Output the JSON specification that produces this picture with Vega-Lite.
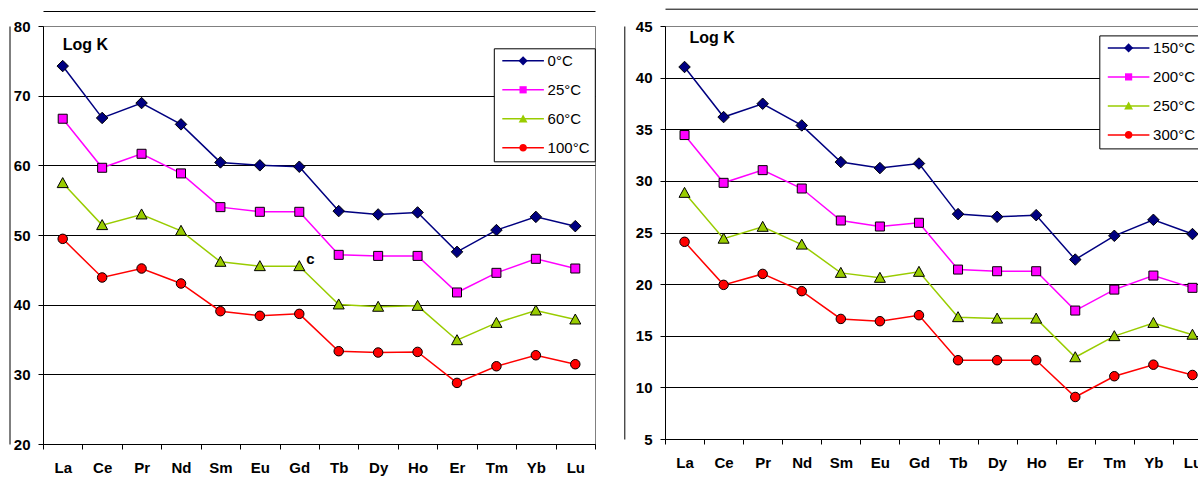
{
  "$schema": "https://vega.github.io/schema/vega-lite/v6.json",
  "background": "white",
  "padding": {"left": 9, "top": 8, "right": 0, "bottom": 0},
  "spacing": 27,
  "datasets": {
    "left": [
      {"element": "La", "temp": "0°C", "logK": 74.25}, {"element": "Ce", "temp": "0°C", "logK": 66.8}, {"element": "Pr", "temp": "0°C", "logK": 68.94}, {"element": "Nd", "temp": "0°C", "logK": 65.88}, {"element": "Sm", "temp": "0°C", "logK": 60.42}, {"element": "Eu", "temp": "0°C", "logK": 60.0}, {"element": "Gd", "temp": "0°C", "logK": 59.8}, {"element": "Tb", "temp": "0°C", "logK": 53.43}, {"element": "Dy", "temp": "0°C", "logK": 52.95}, {"element": "Ho", "temp": "0°C", "logK": 53.24}, {"element": "Er", "temp": "0°C", "logK": 47.58}, {"element": "Tm", "temp": "0°C", "logK": 50.7}, {"element": "Yb", "temp": "0°C", "logK": 52.6}, {"element": "Lu", "temp": "0°C", "logK": 51.27},
      {"element": "La", "temp": "25°C", "logK": 66.69}, {"element": "Ce", "temp": "25°C", "logK": 59.65}, {"element": "Pr", "temp": "25°C", "logK": 61.66}, {"element": "Nd", "temp": "25°C", "logK": 58.84}, {"element": "Sm", "temp": "25°C", "logK": 54.0}, {"element": "Eu", "temp": "25°C", "logK": 53.33}, {"element": "Gd", "temp": "25°C", "logK": 53.33}, {"element": "Tb", "temp": "25°C", "logK": 47.15}, {"element": "Dy", "temp": "25°C", "logK": 47.0}, {"element": "Ho", "temp": "25°C", "logK": 47.0}, {"element": "Er", "temp": "25°C", "logK": 41.75}, {"element": "Tm", "temp": "25°C", "logK": 44.57}, {"element": "Yb", "temp": "25°C", "logK": 46.58}, {"element": "Lu", "temp": "25°C", "logK": 45.19},
      {"element": "La", "temp": "60°C", "logK": 57.45}, {"element": "Ce", "temp": "60°C", "logK": 51.42}, {"element": "Pr", "temp": "60°C", "logK": 52.95}, {"element": "Nd", "temp": "60°C", "logK": 50.6}, {"element": "Sm", "temp": "60°C", "logK": 46.15}, {"element": "Eu", "temp": "60°C", "logK": 45.53}, {"element": "Gd", "temp": "60°C", "logK": 45.53}, {"element": "Tb", "temp": "60°C", "logK": 40.03}, {"element": "Dy", "temp": "60°C", "logK": 39.7}, {"element": "Ho", "temp": "60°C", "logK": 39.83}, {"element": "Er", "temp": "60°C", "logK": 34.9}, {"element": "Tm", "temp": "60°C", "logK": 37.38}, {"element": "Yb", "temp": "60°C", "logK": 39.16}, {"element": "Lu", "temp": "60°C", "logK": 37.87},
      {"element": "La", "temp": "100°C", "logK": 49.45}, {"element": "Ce", "temp": "100°C", "logK": 43.9}, {"element": "Pr", "temp": "100°C", "logK": 45.19}, {"element": "Nd", "temp": "100°C", "logK": 43.04}, {"element": "Sm", "temp": "100°C", "logK": 39.06}, {"element": "Eu", "temp": "100°C", "logK": 38.4}, {"element": "Gd", "temp": "100°C", "logK": 38.68}, {"element": "Tb", "temp": "100°C", "logK": 33.32}, {"element": "Dy", "temp": "100°C", "logK": 33.13}, {"element": "Ho", "temp": "100°C", "logK": 33.22}, {"element": "Er", "temp": "100°C", "logK": 28.77}, {"element": "Tm", "temp": "100°C", "logK": 31.16}, {"element": "Yb", "temp": "100°C", "logK": 32.74}, {"element": "Lu", "temp": "100°C", "logK": 31.45}
    ],
    "right": [
      {"element": "La", "temp": "150°C", "logK": 41.03}, {"element": "Ce", "temp": "150°C", "logK": 36.18}, {"element": "Pr", "temp": "150°C", "logK": 37.47}, {"element": "Nd", "temp": "150°C", "logK": 35.37}, {"element": "Sm", "temp": "150°C", "logK": 31.82}, {"element": "Eu", "temp": "150°C", "logK": 31.24}, {"element": "Gd", "temp": "150°C", "logK": 31.68}, {"element": "Tb", "temp": "150°C", "logK": 26.78}, {"element": "Dy", "temp": "150°C", "logK": 26.52}, {"element": "Ho", "temp": "150°C", "logK": 26.68}, {"element": "Er", "temp": "150°C", "logK": 22.38}, {"element": "Tm", "temp": "150°C", "logK": 24.68}, {"element": "Yb", "temp": "150°C", "logK": 26.23}, {"element": "Lu", "temp": "150°C", "logK": 24.85},
      {"element": "La", "temp": "200°C", "logK": 34.44}, {"element": "Ce", "temp": "200°C", "logK": 29.81}, {"element": "Pr", "temp": "200°C", "logK": 31.04}, {"element": "Nd", "temp": "200°C", "logK": 29.26}, {"element": "Sm", "temp": "200°C", "logK": 26.16}, {"element": "Eu", "temp": "200°C", "logK": 25.58}, {"element": "Gd", "temp": "200°C", "logK": 25.94}, {"element": "Tb", "temp": "200°C", "logK": 21.41}, {"element": "Dy", "temp": "200°C", "logK": 21.25}, {"element": "Ho", "temp": "200°C", "logK": 21.25}, {"element": "Er", "temp": "200°C", "logK": 17.44}, {"element": "Tm", "temp": "200°C", "logK": 19.47}, {"element": "Yb", "temp": "200°C", "logK": 20.83}, {"element": "Lu", "temp": "200°C", "logK": 19.64},
      {"element": "La", "temp": "250°C", "logK": 28.84}, {"element": "Ce", "temp": "250°C", "logK": 24.4}, {"element": "Pr", "temp": "250°C", "logK": 25.55}, {"element": "Nd", "temp": "250°C", "logK": 23.83}, {"element": "Sm", "temp": "250°C", "logK": 21.09}, {"element": "Eu", "temp": "250°C", "logK": 20.61}, {"element": "Gd", "temp": "250°C", "logK": 21.19}, {"element": "Tb", "temp": "250°C", "logK": 16.8}, {"element": "Dy", "temp": "250°C", "logK": 16.66}, {"element": "Ho", "temp": "250°C", "logK": 16.66}, {"element": "Er", "temp": "250°C", "logK": 12.92}, {"element": "Tm", "temp": "250°C", "logK": 14.96}, {"element": "Yb", "temp": "250°C", "logK": 16.24}, {"element": "Lu", "temp": "250°C", "logK": 15.1},
      {"element": "La", "temp": "300°C", "logK": 24.1}, {"element": "Ce", "temp": "300°C", "logK": 19.93}, {"element": "Pr", "temp": "300°C", "logK": 20.99}, {"element": "Nd", "temp": "300°C", "logK": 19.32}, {"element": "Sm", "temp": "300°C", "logK": 16.63}, {"element": "Eu", "temp": "300°C", "logK": 16.41}, {"element": "Gd", "temp": "300°C", "logK": 16.99}, {"element": "Tb", "temp": "300°C", "logK": 12.63}, {"element": "Dy", "temp": "300°C", "logK": 12.63}, {"element": "Ho", "temp": "300°C", "logK": 12.63}, {"element": "Er", "temp": "300°C", "logK": 9.07}, {"element": "Tm", "temp": "300°C", "logK": 11.08}, {"element": "Yb", "temp": "300°C", "logK": 12.2}, {"element": "Lu", "temp": "300°C", "logK": 11.2}
    ],
    "leftTitle": [{"element": "La", "logK": 77.27, "note": "Log K"}],
    "leftNote": [{"element": "Gd", "logK": 46.53, "note": "c"}],
    "rightTitle": [{"element": "La", "logK": 43.79, "note": "Log K"}]
  },
  "hconcat": [
    {
      "width": 552,
      "height": 418,
      "resolve": {"axis": {"x": "independent", "y": "independent"}},
      "layer": [
        {
          "data": {"name": "left"},
          "mark": {"type": "line", "strokeWidth": 1.5},
          "encoding": {
            "x": {"field": "element", "type": "nominal", "bandPosition": 0.5,
                  "sort": ["La","Ce","Pr","Nd","Sm","Eu","Gd","Tb","Dy","Ho","Er","Tm","Yb","Lu"],
                  "scale": {"type": "band", "paddingInner": 0, "paddingOuter": 0},
                  "axis": {"orient": "bottom", "title": null, "tickBand": "extent", "labelAngle": 0, "labelPadding": 11, "grid": false}},
            "y": {"field": "logK", "type": "quantitative",
                  "scale": {"domain": [20, 80], "nice": false, "zero": false},
                  "axis": {"title": null, "values": [20, 30, 40, 50, 60, 70, 80], "grid": true, "labelPadding": 8,
                           "gridColor": {"condition": {"test": "datum.value === 80", "value": "#808080"}, "value": "black"}}},
            "stroke": {"field": "temp", "type": "nominal", "sort": ["0°C", "25°C", "60°C", "100°C"],
                       "scale": {"range": ["#000080", "#FF00FF", "#99CC00", "#FF0000"]},
                       "legend": {"orient": "none", "legendX": 450.8, "legendY": 22.3, "title": null, "zindex": 1,
                                  "symbolType": "M-5.2,0H5.2", "symbolSize": 64, "symbolStrokeWidth": 1.5, "symbolOffset": 16.8,
                                  "labelOffset": 17, "padding": 5, "rowPadding": 13, "strokeColor": "black", "fillColor": "white"}}
          }
        },
        {
          "data": {"name": "left"},
          "mark": {"type": "point", "filled": true, "stroke": "black", "strokeWidth": 1, "size": 100, "opacity": 1},
          "encoding": {
            "x": {"field": "element", "type": "nominal", "bandPosition": 0.5,
                  "sort": ["La","Ce","Pr","Nd","Sm","Eu","Gd","Tb","Dy","Ho","Er","Tm","Yb","Lu"],
                  "axis": {"orient": "top", "offset": 15, "title": null, "labels": false, "ticks": false, "grid": false, "domain": true}},
            "y": {"field": "logK", "type": "quantitative",
                  "axis": {"orient": "left", "offset": 33.5, "title": null, "labels": false, "ticks": false, "grid": false, "domain": true}},
            "fill": {"field": "temp", "type": "nominal",
                     "scale": {"domain": ["0°C", "25°C", "60°C", "100°C"], "range": ["#000080", "#FF00FF", "#99CC00", "#FF0000"]},
                     "legend": {"orient": "none", "legendX": 450.8, "legendY": 22.3, "title": null, "zindex": 2,
                                "symbolSize": 64, "symbolStrokeWidth": 1, "symbolStrokeColor": "black", "symbolOffset": 16.8,
                                "labelOffset": 17, "padding": 5, "rowPadding": 13, "labelOpacity": 0}},
            "shape": {"field": "temp", "type": "nominal",
                      "scale": {"domain": ["0°C", "25°C", "60°C", "100°C"], "range": ["M0,-1.15L1.15,0L0,1.15L-1.15,0Z", "M-0.9,-0.9H0.9V0.9H-0.9Z", "M0,-1.1L1.1,0.9L-1.1,0.9Z", "M-0.95,0A0.95,0.95,0,1,0,0.95,0A0.95,0.95,0,1,0,-0.95,0Z"]},
                      "legend": {"orient": "none", "legendX": 450.8, "legendY": 22.3, "title": null, "zindex": 2,
                                 "symbolSize": 64, "symbolStrokeWidth": 1, "symbolStrokeColor": "black", "symbolOffset": 16.8,
                                 "labelOffset": 17, "padding": 5, "rowPadding": 13, "labelOpacity": 0}}
          }
        },
        {
          "data": {"name": "leftTitle"},
          "mark": {"type": "text", "align": "left", "baseline": "middle", "font": "Liberation Sans", "fontWeight": "bold", "fontSize": 16, "color": "black"},
          "encoding": {
            "x": {"field": "element", "type": "nominal", "bandPosition": 0.5, "sort": ["La","Ce","Pr","Nd","Sm","Eu","Gd","Tb","Dy","Ho","Er","Tm","Yb","Lu"], "axis": null},
            "y": {"field": "logK", "type": "quantitative", "axis": null},
            "text": {"field": "note"}
          }
        },
        {
          "data": {"name": "leftNote"},
          "mark": {"type": "text", "align": "left", "baseline": "middle", "dx": 7, "font": "Liberation Sans", "fontWeight": "bold", "fontSize": 15, "color": "black"},
          "encoding": {
            "x": {"field": "element", "type": "nominal", "bandPosition": 0.5, "sort": ["La","Ce","Pr","Nd","Sm","Eu","Gd","Tb","Dy","Ho","Er","Tm","Yb","Lu"], "axis": null},
            "y": {"field": "logK", "type": "quantitative", "axis": null},
            "text": {"field": "note"}
          }
        }
      ]
    },
    {
      "width": 547,
      "height": 413,
      "resolve": {"axis": {"x": "independent", "y": "independent"}},
      "layer": [
        {
          "data": {"name": "right"},
          "mark": {"type": "line", "strokeWidth": 1.5},
          "encoding": {
            "x": {"field": "element", "type": "nominal", "bandPosition": 0.5,
                  "sort": ["La","Ce","Pr","Nd","Sm","Eu","Gd","Tb","Dy","Ho","Er","Tm","Yb","Lu"],
                  "scale": {"type": "band", "paddingInner": 0, "paddingOuter": 0},
                  "axis": {"orient": "bottom", "title": null, "tickBand": "extent", "labelAngle": 0, "labelPadding": 11, "grid": false}},
            "y": {"field": "logK", "type": "quantitative",
                  "scale": {"domain": [5, 45], "nice": false, "zero": false},
                  "axis": {"title": null, "values": [5, 10, 15, 20, 25, 30, 35, 40, 45], "grid": true, "labelPadding": 8,
                           "gridColor": {"condition": {"test": "datum.value === 45", "value": "#808080"}, "value": "black"}}},
            "stroke": {"field": "temp", "type": "nominal", "sort": ["150°C", "200°C", "250°C", "300°C"],
                       "scale": {"range": ["#000080", "#FF00FF", "#99CC00", "#FF0000"]},
                       "legend": {"orient": "none", "legendX": 434.3, "legendY": 9.4, "title": null, "zindex": 1,
                                  "symbolType": "M-5.2,0H5.2", "symbolSize": 64, "symbolStrokeWidth": 1.5, "symbolOffset": 16.8,
                                  "labelOffset": 17, "padding": 5, "rowPadding": 13, "strokeColor": "black", "fillColor": "white"}}
          }
        },
        {
          "data": {"name": "right"},
          "mark": {"type": "point", "filled": true, "stroke": "black", "strokeWidth": 1, "size": 100, "opacity": 1},
          "encoding": {
            "x": {"field": "element", "type": "nominal", "bandPosition": 0.5,
                  "sort": ["La","Ce","Pr","Nd","Sm","Eu","Gd","Tb","Dy","Ho","Er","Tm","Yb","Lu"],
                  "axis": {"orient": "top", "offset": 17.3, "title": null, "labels": false, "ticks": false, "grid": false, "domain": true}},
            "y": {"field": "logK", "type": "quantitative",
                  "axis": {"orient": "left", "offset": 40.7, "title": null, "labels": false, "ticks": false, "grid": false, "domain": true}},
            "fill": {"field": "temp", "type": "nominal",
                     "scale": {"domain": ["150°C", "200°C", "250°C", "300°C"], "range": ["#000080", "#FF00FF", "#99CC00", "#FF0000"]},
                     "legend": {"orient": "none", "legendX": 434.3, "legendY": 9.4, "title": null, "zindex": 2,
                                "symbolSize": 64, "symbolStrokeWidth": 1, "symbolStrokeColor": "black", "symbolOffset": 16.8,
                                "labelOffset": 17, "padding": 5, "rowPadding": 13, "labelOpacity": 0}},
            "shape": {"field": "temp", "type": "nominal",
                      "scale": {"domain": ["150°C", "200°C", "250°C", "300°C"], "range": ["M0,-1.15L1.15,0L0,1.15L-1.15,0Z", "M-0.9,-0.9H0.9V0.9H-0.9Z", "M0,-1.1L1.1,0.9L-1.1,0.9Z", "M-0.95,0A0.95,0.95,0,1,0,0.95,0A0.95,0.95,0,1,0,-0.95,0Z"]},
                      "legend": {"orient": "none", "legendX": 434.3, "legendY": 9.4, "title": null, "zindex": 2,
                                 "symbolSize": 64, "symbolStrokeWidth": 1, "symbolStrokeColor": "black", "symbolOffset": 16.8,
                                 "labelOffset": 17, "padding": 5, "rowPadding": 13, "labelOpacity": 0}}
          }
        },
        {
          "data": {"name": "rightTitle"},
          "mark": {"type": "text", "align": "left", "baseline": "middle", "dx": 5, "font": "Liberation Sans", "fontWeight": "bold", "fontSize": 16, "color": "black"},
          "encoding": {
            "x": {"field": "element", "type": "nominal", "bandPosition": 0.5, "sort": ["La","Ce","Pr","Nd","Sm","Eu","Gd","Tb","Dy","Ho","Er","Tm","Yb","Lu"], "axis": null},
            "y": {"field": "logK", "type": "quantitative", "axis": null},
            "text": {"field": "note"}
          }
        }
      ]
    }
  ],
  "resolve": {
    "scale": {"x": "independent", "y": "independent", "stroke": "independent", "fill": "independent", "shape": "independent"},
    "legend": {"stroke": "independent", "fill": "independent", "shape": "independent"}
  },
  "config": {
    "font": "Liberation Sans",
    "view": {"stroke": "#808080", "strokeWidth": 1},
    "axis": {"labelFont": "Liberation Sans", "labelFontSize": 15, "labelFontWeight": "bold", "labelColor": "black",
             "domainColor": "black", "tickColor": "black", "gridColor": "black", "domainWidth": 1, "tickWidth": 1, "gridWidth": 1, "tickSize": 5},
    "legend": {"labelFont": "Liberation Sans", "labelFontSize": 15, "labelColor": "black"}
  }
}
